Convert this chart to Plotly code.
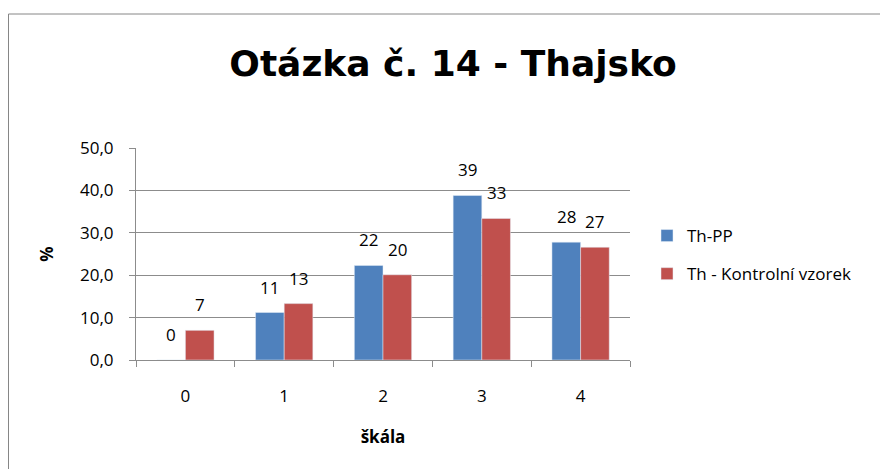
import plotly.graph_objects as go

categories = ["0", "1", "2", "3", "4"]
series_pp = [0.0, 11.2, 22.3, 38.8, 27.8]
series_kontrol = [7.0, 13.3, 20.1, 33.4, 26.6]
name_pp = "Th-PP"
name_kontrol = "Th - Kontrolní vzorek"
y_ticks = [0, 10, 20, 30, 40, 50]

BLUE = "#4F81BD"
RED = "#C0504D"
GRID = "#8c8c8c"
FONT = "Open Sans"

# page has an 8px body margin, so the figure is laid out 8px smaller / shifted
OFF = 8
W, H = 888 - OFF, 469 - OFF
L, T = 136 - OFF, 148 - OFF
R = W - (630 - OFF)
B = H - (360 - OFF)
pw, ph = W - L - R, H - T - B


def sx(px):
    """screen px (reference) -> paper x"""
    return (px - OFF - L) / pw


def sy(py):
    """screen px (reference) -> paper y"""
    return (H - B - (py - OFF)) / ph


fig = go.Figure()
fig.add_trace(go.Bar(x=categories, y=series_pp, name=name_pp, marker_color=BLUE,
                     legendgroup="a"))
fig.add_trace(go.Bar(x=categories, y=series_kontrol, name=name_kontrol, marker_color=RED,
                     legendgroup="b"))

# data labels above bars
bar_px = pw / len(categories) * (1 - 0.42) / 2
for vals, sh in ((series_pp, -bar_px / 2), (series_kontrol, bar_px / 2)):
    for c, v in zip(categories, vals):
        fig.add_annotation(x=c, y=v, text=f"{v:.0f}", showarrow=False,
                           xshift=sh, yshift=12, yanchor="bottom",
                           font=dict(family=FONT, size=17, color="#000"))

fig.add_shape(type="rect", xref="paper", yref="paper",
              x0=sx(8.5), x1=sx(900), y0=sy(480), y1=sy(14),
              line=dict(color="#868686", width=1), layer="below")

fig.update_layout(
    width=W, height=H,
    margin=dict(l=L, r=R, t=T, b=B),
    plot_bgcolor="white", paper_bgcolor="white",
    barmode="group", bargap=0.42, bargroupgap=0,
    separators=",.",
    font=dict(family=FONT, size=17, color="#000"),
    title=dict(text="<b>Otázka č. 14 - Thajsko</b>", x=(453 - OFF) / W, xanchor="center",
               y=1 - (63 - OFF) / H, yanchor="middle",
               font=dict(family="DejaVu Sans", size=36, color="#000")),
    legend=dict(x=sx(647), y=sy(218), xanchor="left", yanchor="top",
                font=dict(family=FONT, size=17), tracegroupgap=13,
                itemwidth=30, bgcolor="rgba(0,0,0,0)"),
    showlegend=True,
)
fig.update_xaxes(type="category", showline=True, linecolor=GRID, linewidth=1,
                 ticks="outside", tickson="boundaries", ticklen=6, tickcolor=GRID,
                 ticklabelstandoff=21, showgrid=False,
                 title=dict(text="<b>škála</b>", standoff=24,
                            font=dict(family=FONT, size=17)))
fig.update_yaxes(range=[0, 50], tickvals=y_ticks, tickformat=".1f",
                 showline=True, linecolor=GRID, linewidth=1,
                 ticks="outside", ticklen=6, tickcolor=GRID,
                 showgrid=True, gridcolor=GRID, gridwidth=1, zeroline=False,
                 ticklabelstandoff=12,
                 title=dict(text="<b>%</b>", standoff=22,
                            font=dict(family=FONT, size=17)))

fig.write_html("out.html")
